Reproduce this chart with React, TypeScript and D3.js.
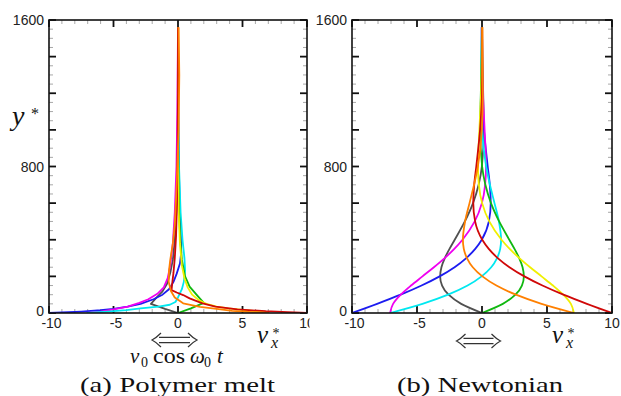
import React from "react";
import * as d3 from "d3";

const W = 621;
const H = 396;

// ---------- series identity ----------
const seriesNames = ["black", "blue", "magenta", "cyan", "green", "yellow", "red", "orange"];
const seriesColors = ["#505050", "#1c1cf0", "#f000f0", "#00e8f0", "#10b810", "#f0f000", "#d00808", "#ff8000"];

// ---------- axis ticks ----------
const xMajorTicks = [-10, -5, 0, 5, 10];
const xMinorTicks = d3.range(-10, 11, 1);
const yMajorTicks = d3.range(0, 1601, 200);
const yMinorTicks = d3.range(0, 1601, 50);
const xTickLabels = ["-10", "-5", "0", "5", "10"];
const yLabelTicks = [0, 800, 1600];
const yTickLabels = ["0", "800", "1600"];

// ---------- (b) Newtonian: v_x* at the heights below ----------
const newtY = [0, 50, 100, 150, 200, 250, 300, 350, 400, 500, 600, 700, 800, 1000, 1200, 1400, 1560];
const newtBlack = [0, -1.6, -2.57, -3.07, -3.22, -3.12, -2.86, -2.5, -2.1, -1.32, -0.69, -0.26, -0.01, 0.14, 0.09, 0.03, 0];
const newtBlue = [-10, -8.07, -6.26, -4.65, -3.26, -2.11, -1.21, -0.52, -0.02, 0.53, 0.67, 0.6, 0.44, 0.15, 0, -0.03, -0.02];
const newtMagenta = [-7.07, -6.84, -6.25, -5.46, -4.58, -3.7, -2.87, -2.13, -1.5, -0.56, -0.01, 0.24, 0.31, 0.2, 0.07, 0, -0.02];
const newtCyan = [-7.07, -4.58, -2.61, -1.11, -0.03, 0.71, 1.16, 1.4, 1.47, 1.3, 0.96, 0.61, 0.32, 0.01, -0.06, -0.04, -0.02];
const newtGreen = [0, 1.6, 2.57, 3.07, 3.22, 3.12, 2.86, 2.5, 2.1, 1.32, 0.69, 0.26, 0.01, -0.14, -0.09, -0.03, 0];
const newtYellow = [7.07, 6.84, 6.25, 5.46, 4.58, 3.7, 2.87, 2.13, 1.5, 0.56, 0.01, -0.24, -0.31, -0.2, -0.07, 0, 0.02];
const newtRed = [10, 8.07, 6.26, 4.65, 3.26, 2.11, 1.21, 0.52, 0.02, -0.53, -0.67, -0.6, -0.44, -0.15, 0, 0.03, 0.02];
const newtOrange = [7.07, 4.58, 2.61, 1.11, 0.03, -0.71, -1.16, -1.4, -1.47, -1.3, -0.96, -0.61, -0.32, -0.01, 0.06, 0.04, 0.02];

// ---------- (a) Polymer melt: [v_x*, y*] ----------
const polyBlack: [number, number][] = [[0, 0], [-1.0, 22], [-2.1, 50], [-1.65, 85], [-1.2, 118], [-0.85, 160], [-0.6, 220], [-0.4, 290], [-0.25, 400], [-0.12, 560], [-0.05, 800], [-0.02, 1100], [0, 1560]];
const polyBlue: [number, number][] = [[-10, 0], [-8.5, 4], [-7.5, 8], [-6.0, 15], [-5.0, 22], [-3.9, 35], [-2.9, 50], [-1.9, 75], [-1.2, 100], [-0.7, 130], [-0.35, 170], [-0.1, 215], [0.15, 270], [0.25, 330], [0.22, 420], [0.15, 550], [0.08, 750], [0.03, 1000], [0, 1300], [0, 1560]];
const polyMagenta: [number, number][] = [[-7.07, 0], [-6.0, 8], [-5.0, 20], [-3.9, 35], [-3.0, 55], [-2.3, 75], [-1.6, 105], [-1.1, 140], [-0.8, 190], [-0.6, 260], [-0.4, 380], [-0.25, 550], [-0.12, 800], [-0.05, 1100], [0, 1560]];
const polyCyan: [number, number][] = [[-7.07, 0], [-5.5, 8], [-4.0, 16], [-2.9, 25], [-1.5, 35], [-0.64, 45], [-0.2, 60], [0, 85], [0.3, 130], [0.45, 170], [0.55, 230], [0.5, 300], [0.35, 400], [0.2, 550], [0.08, 800], [0.02, 1100], [0, 1560]];
const polyGreen: [number, number][] = [[0, 0], [1.0, 25], [2.0, 55], [1.5, 95], [0.9, 144], [0.55, 200], [0.3, 290], [0.18, 400], [0.08, 560], [0.03, 800], [0.01, 1100], [0, 1560]];
const polyYellow: [number, number][] = [[7.07, 0], [6.3, 8], [5.2, 16], [3.9, 25], [3.0, 35], [2.2, 50], [1.6, 70], [1.1, 100], [0.75, 140], [0.5, 190], [0.3, 260], [0.15, 380], [0.05, 550], [0.01, 800], [0, 1100], [0, 1560]];
const polyRed: [number, number][] = [[10, 0], [8.5, 5], [6.8, 10], [4.6, 20], [2.9, 35], [1.9, 53], [0.9, 80], [0.4, 98], [-0.1, 112], [-0.5, 125], [-0.45, 160], [-0.35, 220], [-0.25, 300], [-0.15, 420], [-0.08, 600], [-0.03, 900], [0, 1200], [0, 1560]];
const polyOrange: [number, number][] = [[7.07, 0], [5.5, 6], [4.2, 12], [3.0, 22], [1.7, 34], [0.4, 53], [-0.25, 85], [-0.55, 120], [-0.72, 170], [-0.7, 230], [-0.6, 290], [-0.4, 380], [-0.25, 480], [-0.1, 700], [0.05, 1000], [0.1, 1300], [0.05, 1560]];

const newtValues = [newtBlack, newtBlue, newtMagenta, newtCyan, newtGreen, newtYellow, newtRed, newtOrange];
const polyValues = [polyBlack, polyBlue, polyMagenta, polyCyan, polyGreen, polyYellow, polyRed, polyOrange];

type Pt = [number, number];
type Series = { name: string; color: string; pts: Pt[] };

const newtSeries: Series[] = seriesNames.map((n, i) => ({
  name: n,
  color: seriesColors[i],
  pts: newtValues[i].map((v, j) => [v, newtY[j]] as Pt),
}));
const polySeries: Series[] = seriesNames.map((n, i) => ({
  name: n,
  color: seriesColors[i],
  pts: polyValues[i],
}));

const SANS = "Liberation Sans, Arial, sans-serif";
const SERIF = "Liberation Serif, Times New Roman, serif";

function DoubleArrow({ cx, cy, half }: { cx: number; cy: number; half: number }) {
  const l = cx - half;
  const r = cx + half;
  const g = 2.6;
  const p = [
    `M${l + 7},${cy - g}L${r - 7},${cy - g}`,
    `M${l + 7},${cy + g}L${r - 7},${cy + g}`,
    `M${l + 9},${cy - 7}Q${l + 4},${cy - 2} ${l},${cy}Q${l + 4},${cy + 2} ${l + 9},${cy + 7}`,
    `M${r - 9},${cy - 7}Q${r - 4},${cy - 2} ${r},${cy}Q${r - 4},${cy + 2} ${r - 9},${cy + 7}`,
  ].join("");
  return <path d={p} fill="none" stroke="#333" strokeWidth={1.2} />;
}

function Panel({
  left, right, top, bottom, series, curve, id, showY,
}: {
  left: number; right: number; top: number; bottom: number;
  series: Series[]; curve: d3.CurveFactory; id: string; showY: boolean;
}) {
  const x = d3.scaleLinear().domain([-10, 10]).range([left, right]);
  const y = d3.scaleLinear().domain([0, 1600]).range([bottom, top]);
  const line = d3.line<Pt>().x((d) => x(d[0])).y((d) => y(d[1])).curve(curve);

  const majLen = 7;
  const minLen = 4;
  return (
    <g>
      <defs>
        <clipPath id={id}>
          <rect x={left} y={top} width={right - left} height={bottom - top} />
        </clipPath>
      </defs>
      <g stroke="#a8a8a8" strokeWidth={1}>
        {yMinorTicks.filter((t) => t % 200 !== 0).map((t) => (
          <g key={"ym" + t}>
            <line x1={left} x2={left + minLen} y1={y(t)} y2={y(t)} />
            <line x1={right} x2={right - minLen} y1={y(t)} y2={y(t)} />
          </g>
        ))}
        {xMinorTicks.filter((t) => t % 5 !== 0).map((t) => (
          <g key={"xm" + t}>
            <line x1={x(t)} x2={x(t)} y1={bottom} y2={bottom - minLen} />
            <line x1={x(t)} x2={x(t)} y1={top} y2={top + minLen} />
          </g>
        ))}
      </g>
      <g stroke="#111" strokeWidth={1.8}>
        {yMajorTicks.map((t) => (
          <g key={"yM" + t}>
            <line x1={left} x2={left + majLen} y1={y(t)} y2={y(t)} />
            <line x1={right} x2={right - majLen} y1={y(t)} y2={y(t)} />
          </g>
        ))}
        {xMajorTicks.map((t) => (
          <g key={"xM" + t}>
            <line x1={x(t)} x2={x(t)} y1={bottom} y2={bottom - majLen} />
            <line x1={x(t)} x2={x(t)} y1={top} y2={top + majLen} />
          </g>
        ))}
      </g>
      <g clipPath={`url(#${id})`} fill="none" strokeWidth={1.8} strokeLinejoin="round">
        {series.map((s) => (
          <path key={s.name} d={line(s.pts) || ""} stroke={s.color} />
        ))}
      </g>
      <rect x={left} y={top} width={right - left} height={bottom - top} fill="none" stroke="#111" strokeWidth={1.6} />
      <g fontFamily={SANS} fontSize={14} fill="#222">
        {yLabelTicks.map((t, i) => (
          <text key={"yl" + t} x={left - 5} y={y(t) + (t === 0 ? 3 : 5)} textAnchor="end">
            {yTickLabels[i]}
          </text>
        ))}
        {xMajorTicks.map((t, i) => (
          <text key={"xl" + t} x={x(t) + (t < 0 ? 2.5 : 0)} y={bottom + 15} textAnchor="middle">
            {xTickLabels[i]}
          </text>
        ))}
      </g>
      {showY && (
        <text x={12} y={125} fontFamily={SERIF} fill="#111" fontSize={28} fontStyle="italic">
          y<tspan x={31} y={119} fontSize={16} fontStyle="normal">*</tspan>
        </text>
      )}
    </g>
  );
}

function VxLabel({ x0, y0 }: { x0: number; y0: number }) {
  return (
    <text x={x0} y={y0} fontFamily={SERIF} fill="#111" fontSize={25} fontStyle="italic">
      v
      <tspan x={x0 + 15.5} y={y0 - 5} fontSize={14} fontStyle="normal">*</tspan>
      <tspan x={x0 + 14} y={y0 + 5} fontSize={16}>x</tspan>
    </text>
  );
}

export default function App() {
  const top = 20;
  const bottom = 313;
  const L = { left: 49, right: 307 };
  const R = { left: 352, right: 612 };
  const xl = d3.scaleLinear().domain([-10, 10]).range([L.left, L.right]);
  const xr = d3.scaleLinear().domain([-10, 10]).range([R.left, R.right]);
  return (
    <svg width={W} height={H} viewBox={`0 0 ${W} ${H}`} style={{ display: "block", position: "absolute", left: 0, top: 0, background: "#fff" }}>
      <rect x={0} y={0} width={W} height={H} fill="#fff" />
      <Panel {...L} top={top} bottom={bottom} series={polySeries} curve={d3.curveLinear} id="clipA" showY={true} />
      <rect x={309.5} y={0} width={W - 309.5} height={H} fill="#fff" />
      <Panel {...R} top={top} bottom={bottom} series={newtSeries} curve={d3.curveMonotoneY} id="clipB" showY={false} />

      <VxLabel x0={257} y0={343} />
      <VxLabel x0={552} y0={343} />

      <DoubleArrow cx={xl(0) - 3.5} cy={340} half={22.5} />
      <DoubleArrow cx={xr(0) - 3.5} cy={341} half={22} />

      <text x={130} y={363} fontFamily={SERIF} fill="#111" fontSize={21} fontStyle="italic">
        v
        <tspan x={141} y={367} fontSize={14} fontStyle="normal">0</tspan>
        <tspan x={153} y={363} fontStyle="normal" textLength={32} lengthAdjust="spacingAndGlyphs">cos</tspan>
        <tspan x={190} y={363}>ω</tspan>
        <tspan x={204} y={367} fontSize={14} fontStyle="normal">0</tspan>
        <tspan x={217} y={363}>t</tspan>
      </text>

      <g fontFamily={SERIF} fill="#111" fontSize={22}>
        <text x={80} y={392} textLength={195} lengthAdjust="spacingAndGlyphs">(a) Polymer melt</text>
        <text x={397} y={392} textLength={166} lengthAdjust="spacingAndGlyphs">(b) Newtonian</text>
      </g>
    </svg>
  );
}
